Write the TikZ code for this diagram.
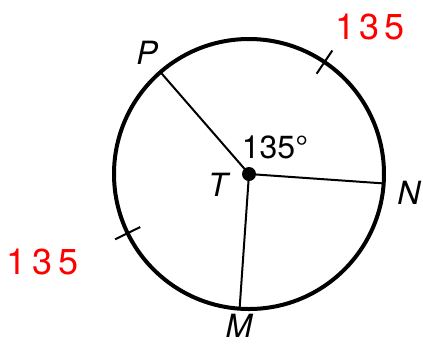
\documentclass[tikz,border=0pt]{standalone}
\usepackage{fontspec}
\setsansfont{TeX Gyre Heros}
\usepackage{xcolor}
\usetikzlibrary{arrows.meta,calc,positioning}

\begin{document}
\begin{tikzpicture}[x=0.5pt, y=0.5pt, font=\sffamily,
  ptlabel/.style={font=\sffamily\itshape\fontsize{16}{18}\selectfont, inner sep=0pt},
  redlabel/.style={red, font=\sffamily\fontsize{18}{20}\selectfont, inner sep=0pt}]
  \useasboundingbox (-249,-171) rectangle (174,174);
  \coordinate (T) at (0,0);
  \coordinate (P) at (131:135);
  \coordinate (N) at (-4:135);
  \coordinate (M) at (-94:135);
  \draw[line width=2pt] (T) circle[radius=135];
  \draw[line width=1pt] (T) -- (P);
  \draw[line width=1pt] (T) -- (N);
  \draw[line width=1pt] (T) -- (M);
  \fill (T) circle[radius=7];
  % congruence ticks
  \draw[line width=1pt] (56:121) -- (56:149);
  \draw[line width=1pt] (206:121) -- (206:149);
  \node[ptlabel] (Plab) at (-102,121) {P};
  \node[ptlabel] (Tlab) at (-31,-11) {T};
  \node[ptlabel] (Nlab) at (160,-19) {N};
  \node[ptlabel] (Mlab) at (-10,-152) {M};
  \node[inner sep=0pt, font=\sffamily\fontsize{16}{18}\selectfont] (ang) at (26,27) {135°};
  \node[redlabel] (arcNP) at (121,147) {1\kern2pt3\kern2pt5};
  \node[redlabel] (arcPM) at (-206,-88) {1\kern3pt3\kern3pt5};
\end{tikzpicture}
\end{document}
